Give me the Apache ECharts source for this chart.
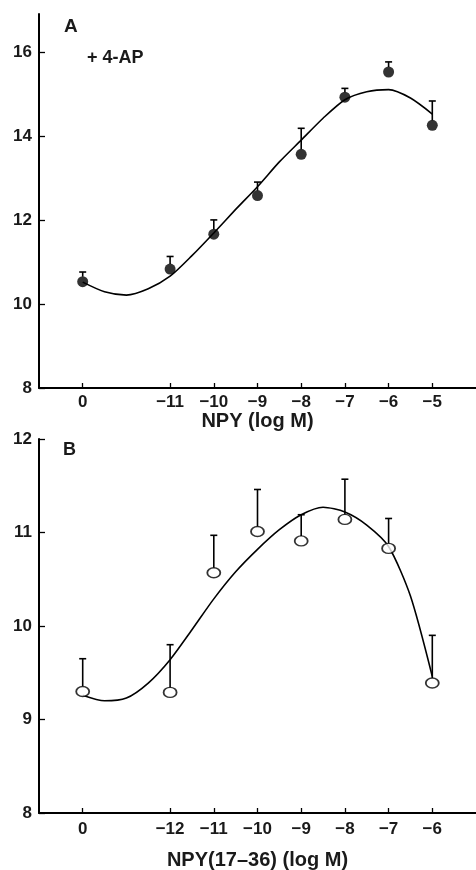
<!DOCTYPE html>
<html>
<head>
<meta charset="utf-8">
<script src="https://cdn.jsdelivr.net/npm/echarts@6/dist/echarts.min.js"></script>
<style>
  html, body { margin: 0; padding: 0; background: #fff; }
  #chart { width: 476px; height: 870px; }
</style>
</head>
<body>
<div id="chart"></div>
<script>
// panel A: NPY + 4-AP
var posA = [-13, -11, -10, -9, -8, -7, -6, -5];
var labelsA = ['0', '\u221211', '\u221210', '\u22129', '\u22128', '\u22127', '\u22126', '\u22125'];
var meanA = [10.53, 10.83, 11.66, 12.58, 13.56, 14.92, 15.52, 14.25];
var errTopA = [10.76, 11.13, 12.0, 12.9, 14.18, 15.13, 15.76, 14.83];
var fitAX = [-13, -12.5, -12, -11.5, -11, -10.5, -10, -9.5, -9, -8.5, -8, -7.5, -7, -6.5, -6, -5.5, -5];
var fitAY = [10.52, 10.29, 10.21, 10.36, 10.66, 11.15, 11.69, 12.25, 12.79, 13.38, 13.9, 14.42, 14.86, 15.05, 15.1, 14.9, 14.52];
var yTicksA = [8, 10, 12, 14, 16];

// panel B: NPY(17-36)
var posB = [-14, -12, -11, -10, -9, -8, -7, -6];
var labelsB = ['0', '\u221212', '\u221211', '\u221210', '\u22129', '\u22128', '\u22127', '\u22126'];
var meanB = [9.30, 9.29, 10.57, 11.01, 10.91, 11.14, 10.83, 9.39];
var errTopB = [9.65, 9.80, 10.97, 11.46, 11.19, 11.57, 11.15, 9.90];
var fitBX = [-14, -13.5, -13, -12.5, -12, -11.5, -11, -10.5, -10, -9.5, -9, -8.5, -8, -7.5, -7, -6.5, -6];
var fitBY = [9.26, 9.20, 9.23, 9.39, 9.64, 9.96, 10.29, 10.58, 10.82, 11.03, 11.19, 11.27, 11.22, 11.08, 10.85, 10.32, 9.46];
var yTicksB = [8, 9, 10, 11, 12];

var FONT = 'Liberation Sans, Arial, sans-serif';
var INK = '#000';
var TEXT = '#1a1a1a';

function pairs(xs, ys) {
    return xs.map(function (x, i) { return [x, ys[i]]; });
}
function errData(xs, means, tops) {
    return xs.map(function (x, i) { return [x, means[i], tops[i]]; });
}
function labelFor(pos, labels) {
    return function (v) {
        var i = pos.indexOf(v);
        return i >= 0 ? labels[i] : '';
    };
}

// upper error bar only, starting at the top of the marker
function errorBar(gap) {
    return function (params, api) {
        var p = api.coord([api.value(0), api.value(1)]);
        var t = api.coord([api.value(0), api.value(2)]);
        var style = { stroke: INK, lineWidth: 1.6 };
        return {
            type: 'group',
            children: [
                { type: 'line', shape: { x1: p[0], y1: p[1] - gap, x2: t[0], y2: t[1] }, style: style },
                { type: 'line', shape: { x1: t[0] - 3.5, y1: t[1], x2: t[0] + 3.5, y2: t[1] }, style: style }
            ]
        };
    };
}

function xAxis(gridIndex, min, max, pos, labels, name, nameGap, margin) {
    return {
        type: 'value', gridIndex: gridIndex, min: min, max: max,
        name: name, nameLocation: 'middle', nameGap: nameGap,
        nameTextStyle: { fontFamily: FONT, fontSize: 20, fontWeight: 'bold', color: TEXT },
        axisLine: { lineStyle: { color: INK, width: 2 } },
        axisTick: { inside: true, length: 5, customValues: pos, lineStyle: { color: INK, width: 1.3 } },
        axisLabel: { customValues: pos, formatter: labelFor(pos, labels), fontFamily: FONT, fontSize: 17, fontWeight: 'bold', color: TEXT, margin: margin },
        splitLine: { show: false }
    };
}
function yAxis(gridIndex, min, max, ticks) {
    return {
        type: 'value', gridIndex: gridIndex, min: min, max: max,
        axisLine: { lineStyle: { color: INK, width: 2 } },
        axisTick: { inside: true, length: 6, customValues: ticks, lineStyle: { color: INK, width: 1.3 } },
        axisLabel: { customValues: ticks, fontFamily: FONT, fontSize: 17, fontWeight: 'bold', color: TEXT, margin: 7 },
        splitLine: { show: false }
    };
}

var chart = echarts.init(document.getElementById('chart'), null, { renderer: 'canvas' });
var option = {
    animation: false,
    backgroundColor: '#fff',
    grid: [
        { left: 39, right: 0, top: 14, height: 374, outerBoundsMode: 'none' },
        { left: 39, right: 0, top: 439, height: 374, outerBoundsMode: 'none' }
    ],
    xAxis: [
        xAxis(0, -14, -4, posA, labelsA, 'NPY (log M)', 23, 6),
        xAxis(1, -15, -5, posB, labelsB, 'NPY(17\u201336) (log M)', 37, 8)
    ],
    yAxis: [
        yAxis(0, 8, 16.9, yTicksA),
        yAxis(1, 8, 12, yTicksB)
    ],
    graphic: [
        { type: 'text', left: 64, top: 17, style: { text: 'A', font: 'bold 19px ' + FONT, fill: TEXT } },
        { type: 'text', left: 87, top: 49, style: { text: '+ 4-AP', font: 'bold 18px ' + FONT, fill: TEXT } },
        { type: 'text', left: 63, top: 441, style: { text: 'B', font: 'bold 18px ' + FONT, fill: TEXT } }
    ],
    series: [
        {
            name: 'fit A', type: 'line', xAxisIndex: 0, yAxisIndex: 0,
            data: pairs(fitAX, fitAY), smooth: 0.25, showSymbol: false,
            lineStyle: { color: INK, width: 1.6 }
        },
        {
            name: 'err A', type: 'custom', xAxisIndex: 0, yAxisIndex: 0,
            data: errData(posA, meanA, errTopA), renderItem: errorBar(5)
        },
        {
            name: 'NPY', type: 'scatter', xAxisIndex: 0, yAxisIndex: 0,
            data: pairs(posA, meanA), symbol: 'circle', symbolSize: 11,
            itemStyle: { color: INK }, z: 5
        },
        {
            name: 'fit B', type: 'line', xAxisIndex: 1, yAxisIndex: 1,
            data: pairs(fitBX, fitBY), smooth: 0.25, showSymbol: false,
            lineStyle: { color: INK, width: 1.6 }
        },
        {
            name: 'err B', type: 'custom', xAxisIndex: 1, yAxisIndex: 1,
            data: errData(posB, meanB, errTopB), renderItem: errorBar(5)
        },
        {
            name: 'NPY(17-36)', type: 'scatter', xAxisIndex: 1, yAxisIndex: 1,
            data: pairs(posB, meanB), symbol: 'circle', symbolSize: [13, 10],
            itemStyle: { color: '#fff', borderColor: INK, borderWidth: 1.6 }, z: 5
        }
    ]
};
chart.setOption(option);
</script>
</body>
</html>
